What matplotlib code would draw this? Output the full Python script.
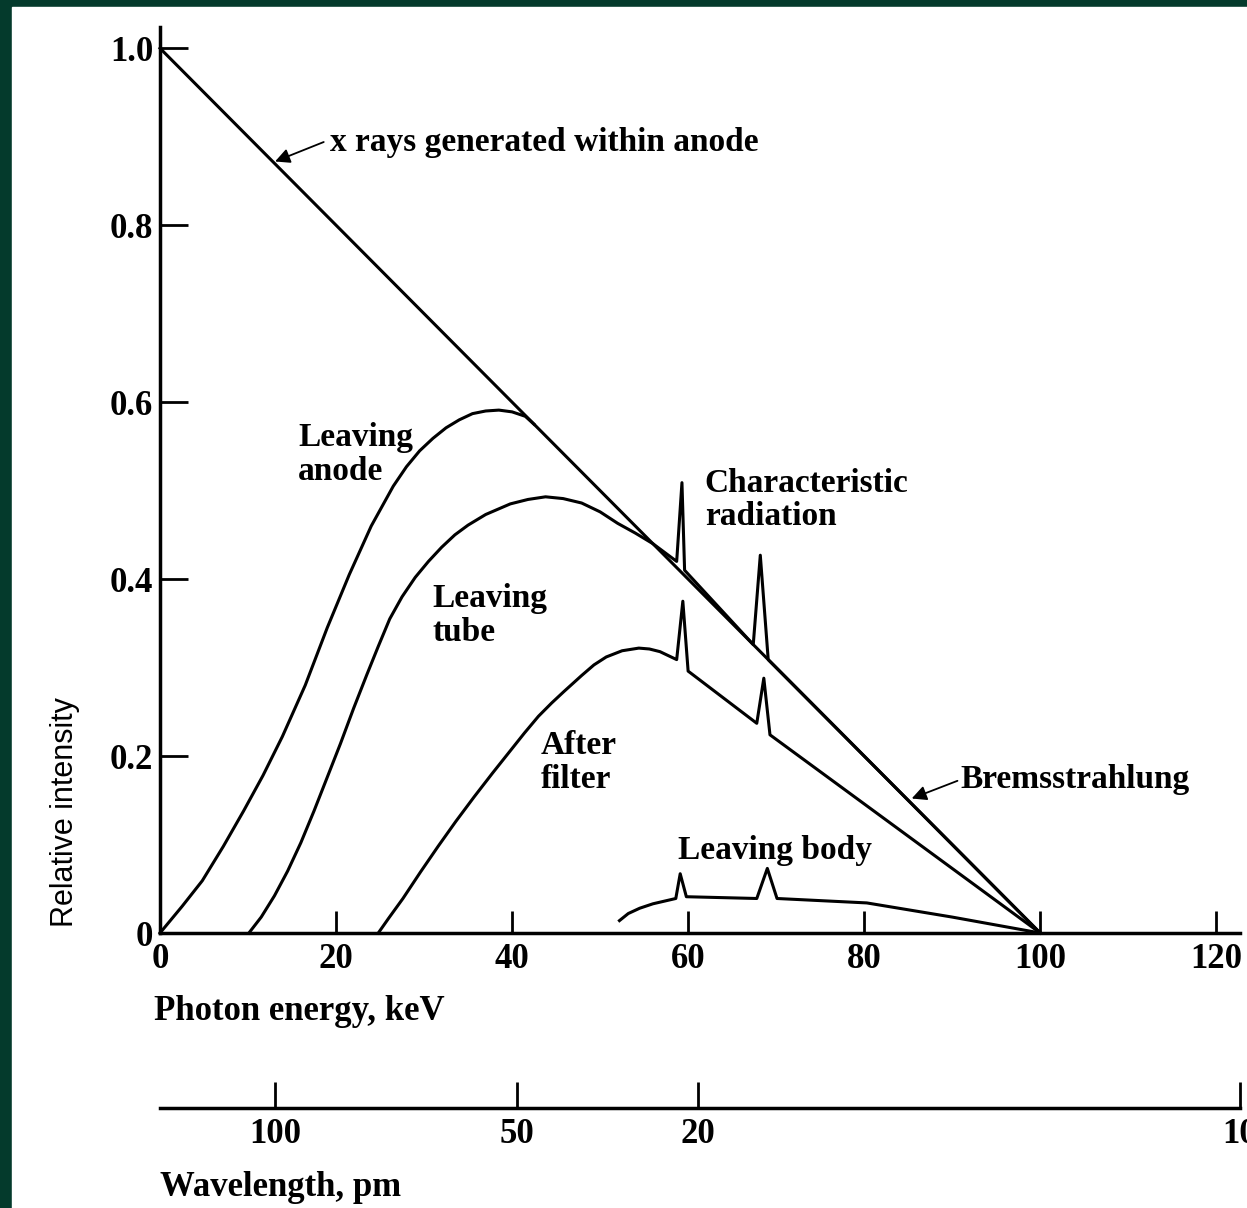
import numpy as np
import matplotlib
matplotlib.use('Agg')
import matplotlib.pyplot as plt
from matplotlib.patches import Rectangle

plt.rcParams['font.family'] = 'serif'
plt.rcParams['font.serif'] = ['Liberation Serif', 'DejaVu Serif']

# x rays generated within the anode (straight bremsstrahlung line)
anode_kev = [0, 100]
anode_int = [1.0, 0.0]

# spectrum leaving the anode
leaving_anode_kev = [0, 2.5, 4.8, 7.2, 9.5, 11.7, 13.9, 16.5, 19.0, 21.5, 24.0, 26.5, 28.0,
                     29.5, 31.0, 32.5, 34.0, 35.5, 37.0, 38.5, 40.0, 41.5, 42.5]
leaving_anode_int = [0, 0.03, 0.059, 0.098, 0.138, 0.178, 0.222, 0.28, 0.345, 0.405, 0.46, 0.505, 0.527,
                     0.545, 0.559, 0.571, 0.58, 0.587, 0.59, 0.591, 0.589, 0.584, 0.575]

# spectrum leaving the tube, with the two characteristic lines on top of the line
leaving_tube_kev = [10.1, 11.5, 13.0, 14.5, 16.0, 17.5, 19.0, 20.5, 22.0, 23.5, 24.8, 26.1, 27.5,
                    29.0, 30.5, 32.0, 33.5, 35.0, 37.0, 39.8, 41.8, 43.8, 45.8, 47.9, 50.0, 52.0,
                    54.0, 56.0, 58.7, 59.3, 59.6, 67.4, 68.2, 69.1, 100]
leaving_tube_int = [0, 0.018, 0.042, 0.07, 0.102, 0.138, 0.176, 0.214, 0.254, 0.292, 0.324, 0.355, 0.38,
                    0.402, 0.42, 0.436, 0.45, 0.461, 0.473, 0.485, 0.49, 0.493, 0.491, 0.486, 0.476, 0.463,
                    0.452, 0.44, 0.42, 0.509, 0.41, 0.326, 0.427, 0.309, 0]

# spectrum after the filter
after_filter_kev = [24.8, 26.0, 27.6, 29.6, 31.6, 33.6, 35.7, 37.8, 39.8, 41.4, 43.0, 44.5, 45.9, 47.9, 49.3,
                    50.7, 52.5, 54.4, 55.6, 56.8, 58.7, 59.4, 60.0, 67.8, 68.6, 69.3, 100]
after_filter_int = [0, 0.017, 0.039, 0.069, 0.098, 0.126, 0.154, 0.181, 0.206, 0.226, 0.245, 0.26, 0.273, 0.291,
                    0.303, 0.312, 0.319, 0.322, 0.321, 0.318, 0.309, 0.375, 0.296, 0.237, 0.288, 0.224, 0]

# spectrum leaving the body
leaving_body_kev = [52.2, 53.2, 54.5, 56.0, 58.6, 59.1, 59.8, 67.8, 69.0, 70.1, 80.3, 90, 100]
leaving_body_int = [0.014, 0.022, 0.028, 0.033, 0.039, 0.067, 0.041, 0.039, 0.073, 0.039, 0.034, 0.018, 0]

energy_ticks = [0, 20, 40, 60, 80, 100, 120]
intensity_ticks = [0, 0.2, 0.4, 0.6, 0.8, 1.0]
intensity_labels = ['0', '0.2', '0.4', '0.6', '0.8', '1.0']

# wavelength scale drawn under the energy axis (positions given in keV)
wavelength_pos_kev = [13.07, 40.6, 61.1, 122.7]
wavelength_labels = ['100', '50', '20', '10']

W, H = 1247, 1208
fig = plt.figure(figsize=(W / 100, H / 100), dpi=100, facecolor='#043a2c')
fig.patches.append(Rectangle((12 / W, 0), 1 - 12 / W, 1 - 7 / H,
                             transform=fig.transFigure, color='white', zorder=-5))

x_max = 122.7
ax = fig.add_axes([160 / W, 1 - 933 / H, (1240 - 160) / W, (933 - 27) / H])
ax.set_facecolor('none')
ax.set_xlim(0, x_max)
ax.set_ylim(0, 1.024)
for side in ['top', 'right']:
    ax.spines[side].set_visible(False)
for side in ['left', 'bottom']:
    ax.spines[side].set_linewidth(2.5)

lw = 2.2
curves = [(anode_kev, anode_int), (leaving_anode_kev, leaving_anode_int),
          (leaving_tube_kev, leaving_tube_int), (after_filter_kev, after_filter_int),
          (leaving_body_kev, leaving_body_int)]
for xs, ys in curves:
    ax.plot(xs, ys, color='black', lw=lw, clip_on=False, solid_joinstyle='round')

ax.set_xticks(energy_ticks)
ax.set_xticklabels([str(t) for t in energy_ticks])
ax.set_yticks(intensity_ticks)
ax.set_yticklabels(intensity_labels)
ax.tick_params(axis='x', direction='in', length=16, width=2, pad=7, labelsize=25)
ax.tick_params(axis='y', direction='in', length=20, width=2, pad=5, labelsize=25)
for lab in ax.get_xticklabels() + ax.get_yticklabels():
    lab.set_fontweight('bold')

# curve labels
txt = dict(fontsize=24, fontweight='bold', ha='left', linespacing=1.12)
ax.text(15.7, 0.577, 'Leaving\nanode', va='top', **txt)
ax.text(31.0, 0.396, 'Leaving\ntube', va='top', **txt)
ax.text(43.3, 0.229, 'After\nfilter', va='top', **txt)
ax.text(61.9, 0.526, 'Characteristic\nradiation', va='top', **txt)
ax.text(58.9, 0.111, 'Leaving body', va='top', **txt)
ax.text(90.9, 0.173, 'Bremsstrahlung', va='center', **txt)
ax.text(19.3, 0.893, 'x rays generated within anode', va='center', **txt)

arrow = dict(arrowstyle='-|>', color='black', lw=1.3, mutation_scale=22, shrinkA=0, shrinkB=0)
ax.annotate('', xy=(13.07, 0.872), xytext=(18.6, 0.894), arrowprops=arrow)
ax.annotate('', xy=(85.4, 0.152), xytext=(90.6, 0.172), arrowprops=arrow)

# wavelength axis
ax2 = fig.add_axes([160 / W, 1 - 1108 / H, (1240 - 160) / W, 0.02])
ax2.set_facecolor('none')
ax2.set_xlim(0, x_max)
for side in ['top', 'right', 'left']:
    ax2.spines[side].set_visible(False)
ax2.spines['bottom'].set_linewidth(2.5)
ax2.set_yticks([])
ax2.set_xticks(wavelength_pos_kev)
ax2.set_xticklabels(wavelength_labels)
ax2.tick_params(axis='x', direction='in', length=19, width=2, pad=7, labelsize=25)
for lab in ax2.get_xticklabels():
    lab.set_fontweight('bold')

fig.text(154 / W, 1 - 1012 / H, 'Photon energy, keV', fontsize=25, fontweight='bold',
         ha='left', va='center')
fig.text(160 / W, 1 - 1187 / H, 'Wavelength, pm', fontsize=25, fontweight='bold',
         ha='left', va='center')
fig.text(65 / W, 1 - 812 / H, 'Relative intensity', fontsize=22, family='Liberation Sans',
         rotation=90, ha='center', va='center')

fig.savefig('out.png', dpi=100, facecolor=fig.get_facecolor())
